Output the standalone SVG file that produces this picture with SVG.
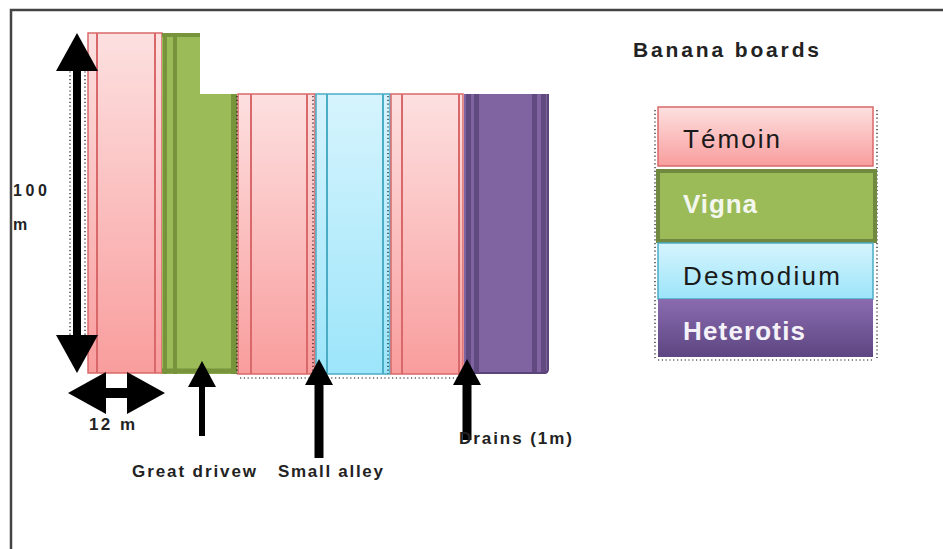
<svg xmlns="http://www.w3.org/2000/svg" width="943" height="549" viewBox="0 0 943 549">
  <defs>
    <linearGradient id="pinkFill" x1="0" y1="0" x2="0" y2="1">
      <stop offset="0" stop-color="#fde0e0"/>
      <stop offset="1" stop-color="#f99d9d"/>
    </linearGradient>
    <linearGradient id="blueFill" x1="0" y1="0" x2="0" y2="1">
      <stop offset="0" stop-color="#d6f4fd"/>
      <stop offset="1" stop-color="#9ce5fa"/>
    </linearGradient>
    <linearGradient id="purpleFill" x1="0" y1="0" x2="0" y2="1">
      <stop offset="0" stop-color="#8a6bb0"/>
      <stop offset="1" stop-color="#5d4681"/>
    </linearGradient>
    <marker id="headLg" markerUnits="userSpaceOnUse" markerWidth="38" markerHeight="42" viewBox="0 0 38 42" refX="1" refY="21" orient="auto-start-reverse">
      <path d="M0,0 L38,21 L0,42 Z" fill="#000"/>
    </marker>
    <marker id="headSm" markerUnits="userSpaceOnUse" markerWidth="26" markerHeight="28" viewBox="0 0 26 28" refX="1" refY="14" orient="auto">
      <path d="M0,0 L26,14 L0,28 Z" fill="#000"/>
    </marker>
  </defs>
  <style>
    .frame { fill: none; stroke: #444; stroke-width: 2.5; }
    .pink { fill: url(#pinkFill); stroke: #d9686a; stroke-width: 1.5; }
    .pinkLine { stroke: #d9686a; stroke-width: 2; }
    .blue { fill: url(#blueFill); stroke: #4bacc6; stroke-width: 1.5; }
    .blueLine { stroke: #4bacc6; stroke-width: 2; }
    .green { fill: #9bbb59; }
    .greenDark { stroke: #77933c; fill: none; }
    .purple { fill: #8064a2; }
    .purpleDark { fill: #604a80; }
    .dots { fill: none; stroke: #111; stroke-width: 1.2; stroke-dasharray: 1.2 2.6; }
    .shaft { stroke: #000; fill: none; }
    .label { font-family: "Liberation Sans", Arial, sans-serif; font-weight: bold; fill: #222; }
    .legend { font-family: "Liberation Sans", Arial, sans-serif; font-size: 26px; }
  </style>

  <!-- page frame -->
  <rect class="frame" x="11" y="10" width="960" height="560"/>

  <!-- banana board strips -->
  <g id="strip-temoin-1">
    <rect class="pink" x="88" y="33" width="74" height="340"/>
    <line class="pinkLine" x1="97" y1="33" x2="97" y2="373"/>
    <line class="pinkLine" x1="155" y1="33" x2="155" y2="373"/>
  </g>

  <g id="strip-vigna">
    <path class="green" d="M162,33 H200 V94 H237 V374 H162 Z"/>
    <line class="greenDark" x1="162" y1="35" x2="200" y2="35" stroke-width="4"/>
    <line class="greenDark" x1="165" y1="33" x2="165" y2="374" stroke-width="4"/>
    <line class="greenDark" x1="175" y1="33" x2="175" y2="374" stroke-width="4"/>
    <line class="greenDark" x1="234" y1="94" x2="234" y2="374" stroke-width="6"/>
    <line class="greenDark" x1="162" y1="371" x2="237" y2="371" stroke-width="5"/>
  </g>

  <g id="strip-temoin-2">
    <rect class="pink" x="238" y="94" width="77" height="280"/>
    <line class="pinkLine" x1="251" y1="94" x2="251" y2="374"/>
    <line class="pinkLine" x1="307" y1="94" x2="307" y2="374"/>
  </g>

  <g id="strip-desmodium">
    <rect class="blue" x="316" y="94" width="74" height="280"/>
    <line class="blueLine" x1="327" y1="94" x2="327" y2="374"/>
    <line class="blueLine" x1="383" y1="94" x2="383" y2="374"/>
  </g>

  <g id="strip-temoin-3">
    <rect class="pink" x="391" y="94" width="72" height="280"/>
    <line class="pinkLine" x1="402" y1="94" x2="402" y2="374"/>
    <line class="pinkLine" x1="459" y1="94" x2="459" y2="374"/>
  </g>

  <g id="strip-heterotis">
    <path class="purple" d="M464,94 H548 V370 Q548,374 544,374 H464 Z"/>
    <rect class="purpleDark" x="466" y="94" width="5" height="280"/>
    <rect class="purpleDark" x="474" y="94" width="5" height="280"/>
    <rect class="purpleDark" x="532" y="94" width="5" height="280"/>
    <rect class="purpleDark" x="541" y="94" width="5" height="278"/>
    <path d="M464,373 H544 Q548,373 548,369 V94" fill="none" stroke="#5a4478" stroke-width="2"/>
  </g>

  <!-- selection dots along strip edges -->
  <g id="selection-marks">
    <line class="dots" x1="237" y1="96" x2="237" y2="374"/>
    <line class="dots" x1="313" y1="96" x2="313" y2="374"/>
    <line class="dots" x1="388" y1="96" x2="388" y2="374"/>
    <line class="dots" x1="240" y1="378" x2="462" y2="378"/>
    <line class="dots" x1="70" y1="60" x2="70" y2="340"/>
    <line class="dots" x1="85" y1="60" x2="85" y2="340"/>
    <line class="dots" x1="655" y1="110" x2="655" y2="358"/>
    <line class="dots" x1="877" y1="110" x2="877" y2="358"/>
    <line class="dots" x1="658" y1="360" x2="874" y2="360"/>
  </g>

  <!-- dimension and pointer arrows -->
  <g id="connectors">
    <line class="shaft" x1="77" y1="70" x2="77" y2="336" stroke-width="8" marker-start="url(#headLg)" marker-end="url(#headLg)"/>
    <line class="shaft" x1="105" y1="393" x2="128" y2="393" stroke-width="10" marker-start="url(#headLg)" marker-end="url(#headLg)"/>
    <line class="shaft" x1="202" y1="436" x2="202" y2="386" stroke-width="6" marker-end="url(#headSm)"/>
    <line class="shaft" x1="319" y1="458" x2="319" y2="384" stroke-width="9" marker-end="url(#headSm)"/>
    <line class="shaft" x1="467" y1="440" x2="467" y2="384" stroke-width="9" marker-end="url(#headSm)"/>
  </g>

  <!-- dimension and pointer labels -->
  <g id="labels">
    <text class="label" x="13" y="196" font-size="16" textLength="34" lengthAdjust="spacing">100</text>
    <text class="label" x="13" y="230" font-size="16">m</text>
    <text class="label" x="89" y="430" font-size="17" textLength="46" lengthAdjust="spacing">12 m</text>
    <text class="label" x="132" y="477" font-size="17" textLength="124" lengthAdjust="spacing">Great drivew</text>
    <text class="label" x="278" y="477" font-size="17" textLength="105" lengthAdjust="spacing">Small alley</text>
    <text class="label" x="459" y="444" font-size="17" textLength="113" lengthAdjust="spacing">Drains (1m)</text>
  </g>

  <!-- legend -->
  <g id="legend-title">
    <text class="label" x="633" y="57" font-size="21" textLength="186" lengthAdjust="spacing">Banana boards</text>
  </g>
  <g id="legend-temoin">
    <rect class="pink" x="658" y="107" width="215" height="59"/>
    <text class="legend" x="683" y="148" fill="#1a1a1a" textLength="97" lengthAdjust="spacing">Témoin</text>
  </g>
  <g id="legend-vigna">
    <rect x="658" y="171" width="217" height="70" fill="#9bbb59" stroke="#71893f" stroke-width="4"/>
    <text class="legend" x="683" y="213" fill="#f4f7ee" font-weight="bold" textLength="74" lengthAdjust="spacing">Vigna</text>
  </g>
  <g id="legend-desmodium">
    <rect class="blue" x="658" y="243" width="215" height="56"/>
    <text class="legend" x="683" y="285" fill="#1a1a1a" textLength="157" lengthAdjust="spacing">Desmodium</text>
  </g>
  <g id="legend-heterotis">
    <rect x="658" y="299" width="215" height="58" fill="url(#purpleFill)"/>
    <text class="legend" x="683" y="340" fill="#f4f1f8" font-weight="bold" textLength="122" lengthAdjust="spacing">Heterotis</text>
  </g>
</svg>
